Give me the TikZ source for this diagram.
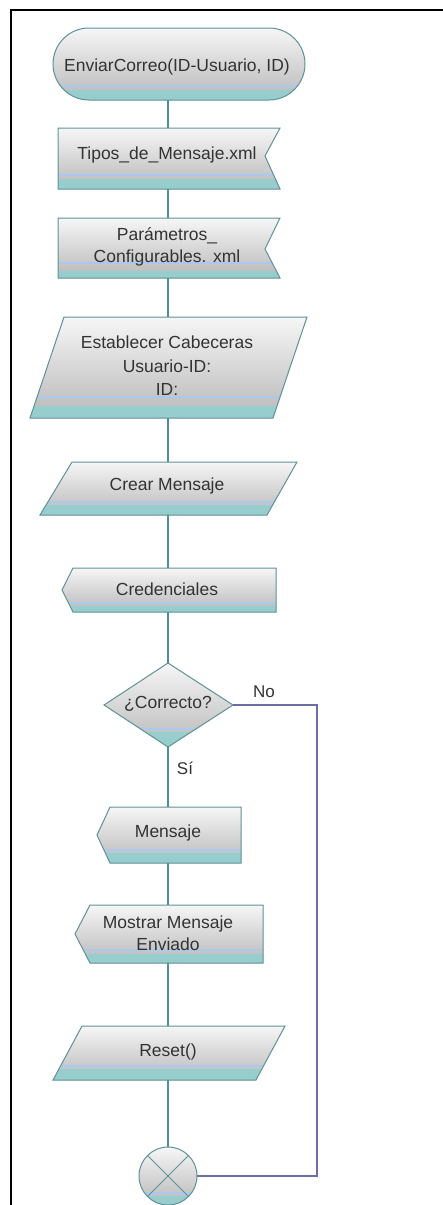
\documentclass[tikz,border=0pt]{standalone}
\usepackage{fontspec}
\setmainfont{Liberation Sans}
\definecolor{textgray}{HTML}{333333}
\definecolor{edgecol}{HTML}{5F9297}
\definecolor{conncol}{HTML}{4F9095}
\definecolor{nocol}{HTML}{6C6FA6}
\definecolor{bandcol}{HTML}{97CDCC}
\definecolor{bluecol}{HTML}{A9C9EE}
\definecolor{shadetop}{HTML}{F6F6F6}
\definecolor{shadebot}{HTML}{B8B8B8}
% Flowchart symbol: gradient body, light-blue rule and teal foot band
% #1 path options, #2 outline path, #3 y of blue rule, #4 top of teal band
\newcommand\fcshape[4][]{%
  \shade[top color=shadetop, bottom color=shadebot, #1] #2;
  \begin{scope}
    \clip[#1] #2;
    \fill[bandcol] (0,#4) rectangle (443,1205);
    \draw[bluecol, line width=1.3pt] (0,#3) -- (443,#3);
  \end{scope}
  \draw[outline, #1] #2;
}
\begin{document}
\begin{tikzpicture}[x=1pt,y=-1pt,
  txt/.style={font=\fontsize{17.5}{22}\selectfont, text=textgray, align=center, inner sep=0pt},
  lbl/.style={font=\fontsize{17}{20}\selectfont, text=textgray, inner sep=0pt},
  outline/.style={draw=edgecol, line width=1pt},
  conn/.style={draw=conncol, line width=1.2pt},
  noconn/.style={draw=nocol, line width=1.2pt}]
\useasboundingbox (0,0) rectangle (443,1205);

% page frame
\draw[black, line width=2pt] (443,10) -- (11,10) -- (11,1206);

% start terminal
\fcshape[rounded corners=36pt]{(53,28) rectangle (305,100)}{86}{90}
\node[txt] (start) at (177,67) {EnviarCorreo(ID-Usuario, ID)};
\coordinate (start-b) at (168,100);

% stored data files
\fcshape{(58,128) -- (280,128) -- (265,156) -- (280,189) -- (58,189) -- cycle}{175}{179}
\node[txt] (tipos) at (167,155) {Tipos\_de\_Mensaje.xml};
\coordinate (tipos-t) at (168,128);
\coordinate (tipos-b) at (168,189);

\fcshape{(58,218) -- (280,218) -- (265,249) -- (280,278) -- (58,278) -- cycle}{263}{271}
\node[txt] (param) at (167,247) {Parámetros\_\\Configurables. xml};
\coordinate (param-t) at (168,218);
\coordinate (param-b) at (168,278);

% input/output steps
\fcshape{(64,317) -- (307,317) -- (273,418) -- (30,418) -- cycle}{397}{406}
\node[txt, font=\fontsize{17.5}{23.5}\selectfont] (cabec) at (167,366) {Establecer Cabeceras\\Usuario-ID:\\ID:};
\coordinate (cabec-t) at (168,317);
\coordinate (cabec-b) at (168,418);

\fcshape{(72,462) -- (297,462) -- (267,515) -- (40,515) -- cycle}{502}{505}
\node[txt] (crear) at (167,486) {Crear Mensaje};
\coordinate (crear-t) at (168,462);
\coordinate (crear-b) at (168,515);

% display symbols
\fcshape{(73,568) -- (276,568) -- (276,612) -- (73,612) -- (62,590) -- cycle}{603}{606}
\node[txt] (cred) at (167,589) {Credenciales};
\coordinate (cred-t) at (168,568);
\coordinate (cred-b) at (168,612);

% decision
\fcshape{(168,663) -- (233,705) -- (168,747) -- (104,705) -- cycle}{729}{732}
\node[txt] (dec) at (168,704) {¿Correcto?};
\coordinate (dec-t) at (168,663);
\coordinate (dec-b) at (168,747);
\coordinate (dec-r) at (233,705);

\fcshape{(110,807) -- (241,807) -- (241,863) -- (110,863) -- (97,835) -- cycle}{850}{853}
\node[txt] (msg) at (168,833) {Mensaje};
\coordinate (msg-t) at (168,807);
\coordinate (msg-b) at (168,863);

\fcshape{(90,905) -- (263,905) -- (263,963) -- (90,963) -- (75,934) -- cycle}{950}{954}
\node[txt] (mostrar) at (168,933) {Mostrar Mensaje\\Enviado};
\coordinate (mostrar-t) at (168,905);
\coordinate (mostrar-b) at (168,963);

\fcshape{(82,1026) -- (285,1026) -- (256,1080) -- (53,1080) -- cycle}{1066}{1069}
\node[txt] (reset) at (168,1052) {Reset()};
\coordinate (reset-t) at (168,1026);
\coordinate (reset-b) at (168,1080);

% summing junction
\fcshape{(168,1176) circle (29pt)}{1193}{1196}
\coordinate (join) at (168,1176);
\coordinate (join-t) at (168,1147);
\coordinate (join-r) at (197,1176);
\draw[outline] (147.5,1155.5) -- (188.5,1196.5) (188.5,1155.5) -- (147.5,1196.5);

% connectors
\draw[conn] (start-b) -- (tipos-t);
\draw[conn] (tipos-b) -- (param-t);
\draw[conn] (param-b) -- (cabec-t);
\draw[conn] (cabec-b) -- (crear-t);
\draw[conn] (crear-b) -- (cred-t);
\draw[conn] (cred-b) -- (dec-t);
\draw[conn] (dec-b) -- (msg-t);
\draw[conn] (msg-b) -- (mostrar-t);
\draw[conn] (mostrar-b) -- (reset-t);
\draw[conn] (reset-b) -- (join-t);
\draw[noconn] (dec-r) -- (317,705) -- (317,1176) -- (join-r);

% branch labels
\node[lbl] (no) at (264,692) {No};
\node[lbl] (si) at (185,768) {Sí};
\end{tikzpicture}
\end{document}
